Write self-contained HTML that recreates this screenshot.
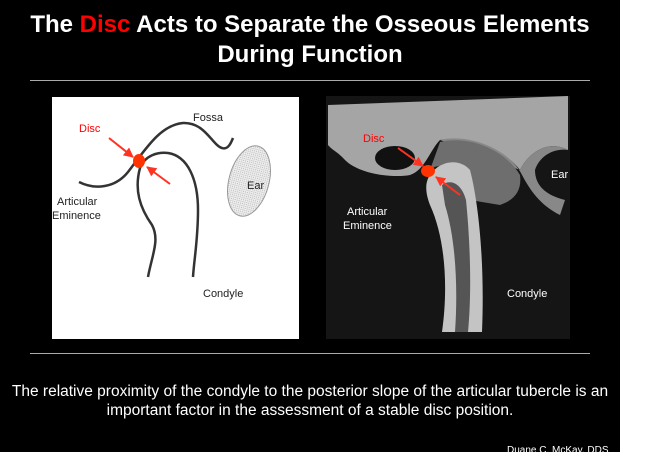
<!DOCTYPE html>
<html><head><meta charset="utf-8"><style>
html,body{margin:0;padding:0;background:#fff;}
body{width:648px;height:459px;position:relative;overflow:hidden;font-family:"Liberation Sans",Arial,sans-serif;}
#bg{position:absolute;left:0;top:0;width:620px;height:452px;background:#000;}
.t{position:absolute;white-space:nowrap;}
</style></head><body>
<div id="bg"></div>
<div class="t" style="left:0;width:620px;text-align:center;top:10px;color:#fff;font-weight:bold;font-size:24px;line-height:30px;">The <span style="color:#f00">Disc</span> Acts to Separate the Osseous Elements<br>During Function</div>
<div style="position:absolute;left:30px;top:80px;width:560px;height:1px;background:#aaa;"></div>
<div style="position:absolute;left:30px;top:353px;width:560px;height:1px;background:#aaa;"></div>
<svg style="position:absolute;left:0;top:0" width="648" height="459">
<defs>
<pattern id="dots" width="2" height="2" patternUnits="userSpaceOnUse"><rect width="2" height="2" fill="#eee"/><rect width="1" height="1" fill="#bbb"/></pattern>
<marker id="ar" viewBox="0 0 10 10" refX="9" refY="5" markerWidth="5" markerHeight="5" orient="auto"><path d="M0,0L10,5L0,10z" fill="#f32"/></marker>
</defs>
<rect x="52" y="97" width="247" height="242" fill="#fff"/>
<path d="M79,182 C95,190 115,188 128,172 C145,150 160,125 183,123 C205,122 212,145 222,148 C228,150 231,143 233,138" fill="none" stroke="#333" stroke-width="2.5"/>
<path d="M148,277 C152,255 160,240 152,225 C140,208 134,190 140,168 C145,155 158,152 168,153 C188,156 198,180 198,210 C198,240 194,260 193,277" fill="none" stroke="#333" stroke-width="2.5"/>
<ellipse cx="249" cy="181" rx="20" ry="36" transform="rotate(15 249 181)" fill="url(#dots)" stroke="#999" stroke-width="1"/>
<ellipse cx="139" cy="161" rx="6" ry="7" fill="#f30"/>
<line x1="109" y1="138" x2="133" y2="157" stroke="#f32" stroke-width="2" marker-end="url(#ar)"/>
<line x1="170" y1="184" x2="147" y2="167" stroke="#f32" stroke-width="2" marker-end="url(#ar)"/>
<text x="79" y="132" fill="#f00" font-size="11" font-family="Liberation Sans,sans-serif">Disc</text>
<text x="193" y="121" fill="#222" font-size="11" font-family="Liberation Sans,sans-serif">Fossa</text>
<text x="247" y="189" fill="#222" font-size="11" font-family="Liberation Sans,sans-serif">Ear</text>
<text x="57" y="205" fill="#222" font-size="11" font-family="Liberation Sans,sans-serif">Articular</text>
<text x="52" y="219" fill="#222" font-size="11" font-family="Liberation Sans,sans-serif">Eminence</text>
<text x="203" y="297" fill="#222" font-size="11" font-family="Liberation Sans,sans-serif">Condyle</text>

<rect x="326" y="96" width="244" height="243" fill="#151515"/>
<path d="M328,105 L568,96 L568,150 C550,140 530,150 520,170 C505,150 470,135 440,140 C430,150 425,170 410,175 C395,178 360,175 345,160 C338,152 332,150 328,145 Z" fill="#a5a5a5"/>
<path d="M440,140 C470,133 510,150 522,175 C530,190 540,205 560,215 L565,200 C545,195 535,185 535,170 C540,155 555,148 568,150 L568,150 C550,140 530,150 520,170 Z" fill="#888"/>
<path d="M440,142 C470,135 505,150 520,175 C522,190 515,200 500,205 L470,200 C460,170 440,160 430,170 Z" fill="#6e6e6e"/>
<ellipse cx="395" cy="158" rx="20" ry="12" fill="#111"/>
<path d="M430,175 C440,160 460,158 470,170 C478,200 485,260 482,332 L442,332 C448,290 446,240 430,205 C425,192 425,182 430,175 Z" fill="#c4c4c4"/>
<path d="M442,185 C452,178 462,185 466,200 C470,240 472,290 468,332 L455,332 C458,290 456,240 445,205 Z" fill="#555"/>
<ellipse cx="428" cy="171" rx="7" ry="6" fill="#f30"/>
<line x1="398" y1="148" x2="423" y2="166" stroke="#f32" stroke-width="2" marker-end="url(#ar)"/>
<line x1="460" y1="195" x2="436" y2="177" stroke="#f32" stroke-width="2" marker-end="url(#ar)"/>
<text x="363" y="142" fill="#f00" font-size="11" font-family="Liberation Sans,sans-serif">Disc</text>
<text x="551" y="178" fill="#fff" font-size="11" font-family="Liberation Sans,sans-serif">Ear</text>
<text x="347" y="215" fill="#fff" font-size="11" font-family="Liberation Sans,sans-serif">Articular</text>
<text x="343" y="229" fill="#fff" font-size="11" font-family="Liberation Sans,sans-serif">Eminence</text>
<text x="507" y="297" fill="#fff" font-size="11" font-family="Liberation Sans,sans-serif">Condyle</text>
</svg>
<div class="t" style="left:0;width:620px;text-align:center;top:382px;color:#fff;font-size:15.5px;line-height:19px;">The relative proximity of the condyle to the posterior slope of the articular tubercle is an<br>important factor in the assessment of a stable disc position.</div>
<div class="t" style="left:507px;top:445px;color:#fff;font-size:10px;">Duane C. McKay, DDS</div>
<div style="position:absolute;left:0;top:452px;width:648px;height:7px;background:#fff;"></div>
</body></html>
